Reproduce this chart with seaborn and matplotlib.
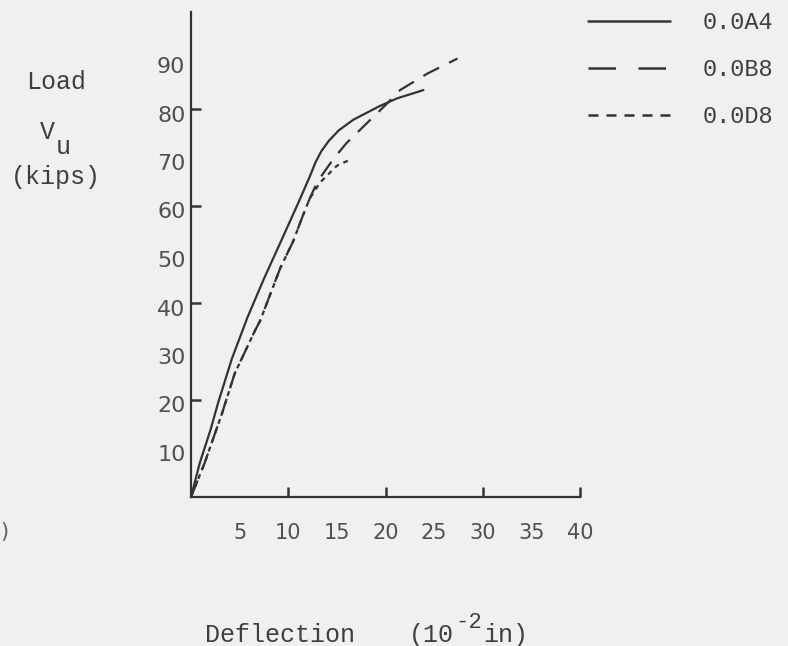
import pandas as pd
import seaborn as sns
import matplotlib.pyplot as plt
from matplotlib.lines import Line2D
from matplotlib.transforms import ScaledTranslation

# 读图估计的数据 (deflection in 1e-2 in, load in kips)
a4_defl = [0, 0.9, 2.0, 2.8, 4.2, 5.8, 7.5, 9.2, 11.0, 12.2, 12.8, 13.4, 14.2, 15.2, 16.7, 19.4, 21.2, 23.9]
a4_load = [0, 7.0, 13.8, 19.5, 28.5, 37.0, 45.0, 52.5, 60.5, 66.0, 69.0, 71.3, 73.5, 75.6, 77.8, 80.6, 82.2, 83.9]

b8_defl = [0, 1.4, 3.2, 4.5, 6.6, 7.1, 9.2, 10.5, 11.5, 12.2, 13.0, 14.6, 16.0, 18.1, 20.2, 21.5, 24.3, 27.4]
b8_load = [0, 7.0, 17.3, 25.5, 34.4, 36.3, 47.3, 52.7, 58.0, 61.5, 65.0, 69.6, 73.0, 77.1, 81.2, 83.9, 87.3, 90.4]

d8_defl = [0, 1.4, 3.2, 4.5, 6.6, 7.1, 9.2, 10.5, 11.5, 12.2, 13.0, 13.3, 15.0, 16.4]
d8_load = [0, 7.0, 17.3, 25.5, 34.4, 36.3, 47.3, 52.7, 58.0, 61.5, 64.0, 64.9, 68.3, 69.6]

specimens = ['0.0A4', '0.0B8', '0.0D8']
xtick_vals = [5, 10, 15, 20, 25, 30, 35, 40]
xmark_vals = [10, 20, 30, 40]
ytick_vals = [10, 20, 30, 40, 50, 60, 70, 80, 90]
ymark_vals = [20, 40, 60, 80]

df = pd.concat([
    pd.DataFrame({'defl': a4_defl, 'load': a4_load, 'spec': specimens[0]}),
    pd.DataFrame({'defl': b8_defl, 'load': b8_load, 'spec': specimens[1]}),
    pd.DataFrame({'defl': d8_defl, 'load': d8_load, 'spec': specimens[2]}),
], ignore_index=True)

bg = '#f0f0ef'
ink = '#333333'
txt = '#3f3f3f'

sns.set_theme(style='ticks')
plt.rcParams['font.family'] = ['DejaVu Sans']
mono = ['Liberation Mono', 'DejaVu Sans Mono']

fig = plt.figure(figsize=(7.88, 6.46), dpi=100, facecolor=bg)
ax = fig.add_axes([191 / 788, 1 - 497 / 646, 389 / 788, 485 / 646])
ax.set_facecolor(bg)

sns.lineplot(data=df, x='defl', y='load', style='spec', style_order=specimens,
             dashes={'0.0A4': '', '0.0B8': (8, 5), '0.0D8': (2.2, 2.2)},
             color=ink, lw=1.6, sort=False, estimator=None, legend=False, ax=ax)

ax.set_xlim(0, 40)
ax.set_ylim(0, 100)
sns.despine(ax=ax)
for s in ['left', 'bottom']:
    ax.spines[s].set_color(ink)
    ax.spines[s].set_linewidth(1.6)

# 刻度: 数字每5/10一个, 刻度线只在部分位置
ax.xaxis.remove_overlapping_locs = False
ax.yaxis.remove_overlapping_locs = False
ax.set_xticks(xtick_vals)
ax.set_xticklabels([str(v) for v in xtick_vals])
ax.set_xticks(xmark_vals, minor=True)
ax.set_yticks(ytick_vals)
ax.set_yticklabels([str(v) for v in ytick_vals])
ax.set_yticks(ymark_vals, minor=True)
ax.tick_params(which='major', length=0, labelcolor='#505050')
ax.tick_params(axis='x', which='major', pad=19, labelsize=15)
ax.tick_params(axis='y', which='major', pad=4, labelsize=16)
ax.tick_params(which='minor', direction='in', length=7, width=1.8, color=ink)
ax.set_xlabel('')
ax.set_ylabel('')
shift = ScaledTranslation(0, -0.045, fig.dpi_scale_trans)
for lab in ax.get_yticklabels():
    lab.set_transform(lab.get_transform() + shift)

# 左侧纵轴标题
fig.text(56 / 788, 1 - 82 / 646, 'Load', family=mono, fontsize=18, color=txt, ha='center', va='center')
fig.text(47 / 788, 1 - 132 / 646, 'V', family=mono, fontsize=18, color=txt, ha='center', va='center')
fig.text(63 / 788, 1 - 147 / 646, 'u', family=mono, fontsize=18, color=txt, ha='center', va='center')
fig.text(56 / 788, 1 - 177 / 646, '(kips)', family=mono, fontsize=18, color=txt, ha='center', va='center')

# 底部横轴标题
fig.text(205 / 788, 1 - 635 / 646, 'Deflection', family=mono, fontsize=18, color=txt, ha='left', va='center')
fig.text(409 / 788, 1 - 635 / 646, '(10', family=mono, fontsize=18, color=txt, ha='left', va='center')
fig.text(455 / 788, 1 - 623 / 646, '-2', family=mono, fontsize=16, color=txt, ha='left', va='center')
fig.text(483 / 788, 1 - 635 / 646, 'in)', family=mono, fontsize=18, color=txt, ha='left', va='center')

# 扫描件左边缘残字
fig.text(0.0, 1 - 532 / 646, ')', fontsize=15, color='#606060', ha='left', va='center')

# 图例
handles = [
    Line2D([], [], color=ink, lw=1.8),
    Line2D([], [], color=ink, lw=1.8, dashes=(11, 9)),
    Line2D([], [], color=ink, lw=1.8, dashes=(4, 3.2)),
]
fig.legend(handles, specimens, loc='upper left', bbox_to_anchor=(588 / 788, 1 - 11 / 646),
           frameon=False, borderpad=0, borderaxespad=0, handlelength=3.47,
           handletextpad=1.4, labelspacing=1.02, prop={'family': mono, 'size': 17},
           labelcolor=txt)

fig.savefig('out.png', dpi=100, facecolor=bg)
